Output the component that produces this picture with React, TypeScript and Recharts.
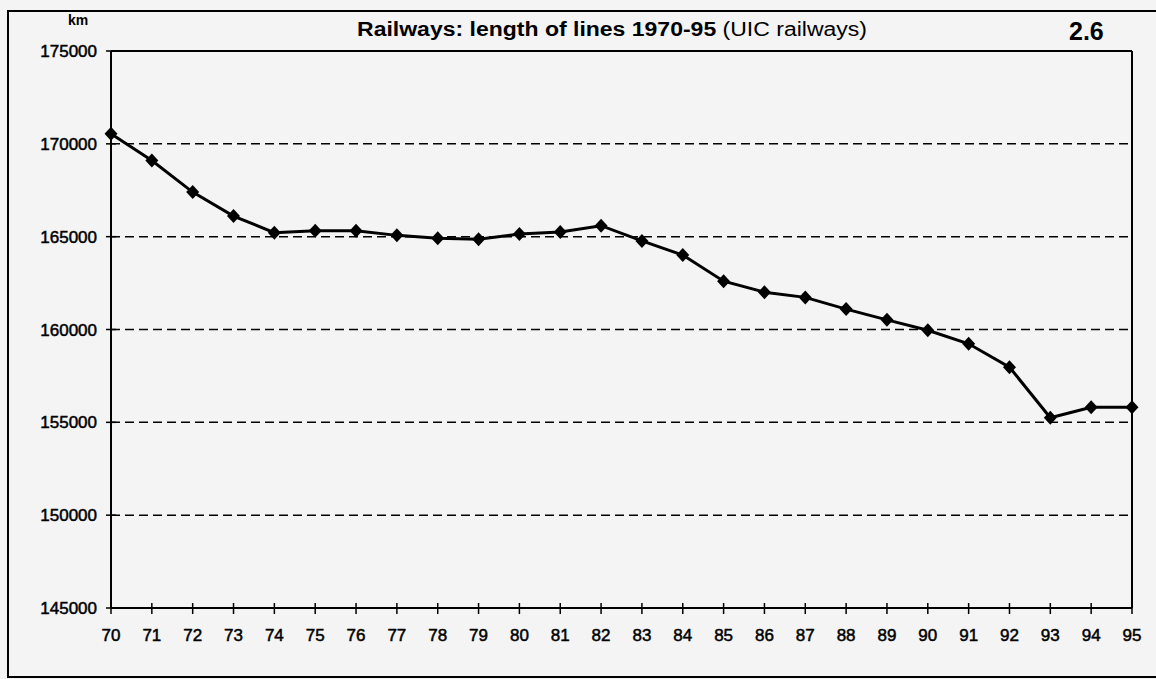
import { LineChart, Line, XAxis, YAxis, CartesianGrid, ReferenceLine } from 'recharts';

// 1970-95, UIC railways, km of lines
const years = [70, 71, 72, 73, 74, 75, 76, 77, 78, 79, 80, 81, 82, 83, 84, 85, 86, 87, 88, 89, 90, 91, 92, 93, 94, 95];
const lengthKm = [
  170540, 169100, 167400, 166110, 165215, 165320, 165320, 165070, 164910, 164860, 165140, 165250, 165590,
  164770, 164010, 162600, 162010, 161730, 161100, 160520, 159960, 159230, 157970, 155250, 155810, 155810,
];
const yTicks = [145000, 150000, 155000, 160000, 165000, 170000, 175000];

const data = years.map((year, i) => ({ year, km: lengthKm[i] }));

const FONT = '"Liberation Sans", Arial, sans-serif';

function Diamond(props: any) {
  const { cx, cy } = props;
  if (cx == null || cy == null) return null;
  return <polygon points={`${cx},${cy - 7} ${cx + 6.5},${cy} ${cx},${cy + 7} ${cx - 6.5},${cy}`} fill="#000" />;
}

function XTick({ x, y, payload }: any) {
  return (
    <g>
      <line x1={x} x2={x} y1={y - 5} y2={y + 6} stroke="#000" strokeWidth={1.5} />
      <text x={x} y={y + 33} textAnchor="middle" fontSize={17} fontFamily={FONT} fill="#000" stroke="#000" strokeWidth={0.5}>
        {payload.value}
      </text>
    </g>
  );
}

function YTick({ x, y, payload }: any) {
  return (
    <g>
      <line x1={x - 5} x2={x + 5} y1={y} y2={y} stroke="#000" strokeWidth={1.5} />
      <text x={x - 14} y={y} dy="0.36em" textAnchor="end" fontSize={17} fontFamily={FONT} fill="#000" stroke="#000" strokeWidth={0.5}>
        {payload.value}
      </text>
    </g>
  );
}

export default function App() {
  return (
    <div style={{ position: 'absolute', left: 0, top: 0, width: 1156, height: 679, background: '#f4f4f4', overflow: 'hidden', fontFamily: FONT }}>
      <div style={{ position: 'absolute', left: 7, top: 10, width: 1200, height: 664, border: '2px solid #000' }} />
      <div style={{ position: 'absolute', left: 68, top: 12, fontSize: 14, fontWeight: 'bold' }}>km</div>
      <div style={{ position: 'absolute', left: 0, width: 1224, top: 16, textAlign: 'center', fontSize: 23, whiteSpace: 'nowrap', transform: 'scaleY(0.85)' }}>
        <span style={{ fontWeight: 'bold' }}>Railways: length of lines 1970-95</span> (UIC railways)
      </div>
      <div style={{ position: 'absolute', left: 1069, top: 17, fontSize: 25, fontWeight: 'bold' }}>2.6</div>
      <div style={{ position: 'absolute', left: 0, top: 0 }}>
        <LineChart width={1156} height={679} data={data} margin={{ top: 51, right: 24, bottom: 41, left: 0 }}>
          <CartesianGrid vertical={false} stroke="#000" strokeWidth={1.5} strokeDasharray="9 5" />
          <XAxis
            dataKey="year"
            type="number"
            domain={[70, 95]}
            ticks={years}
            interval={0}
            height={30}
            tickSize={0}
            tickMargin={0}
            tickLine={false}
            tick={<XTick />}
            axisLine={{ stroke: '#000', strokeWidth: 2 }}
          />
          <YAxis
            type="number"
            domain={[145000, 175000]}
            ticks={yTicks}
            interval={0}
            width={111}
            tickSize={0}
            tickMargin={0}
            tickLine={false}
            tick={<YTick />}
            axisLine={{ stroke: '#000', strokeWidth: 2 }}
          />
          <ReferenceLine y={175000} stroke="#000" strokeWidth={2} />
          <ReferenceLine x={95} stroke="#000" strokeWidth={2} />
          <Line
            dataKey="km"
            stroke="#000"
            strokeWidth={3}
            dot={<Diamond />}
            activeDot={false}
            isAnimationActive={false}
          />
        </LineChart>
      </div>
    </div>
  );
}
